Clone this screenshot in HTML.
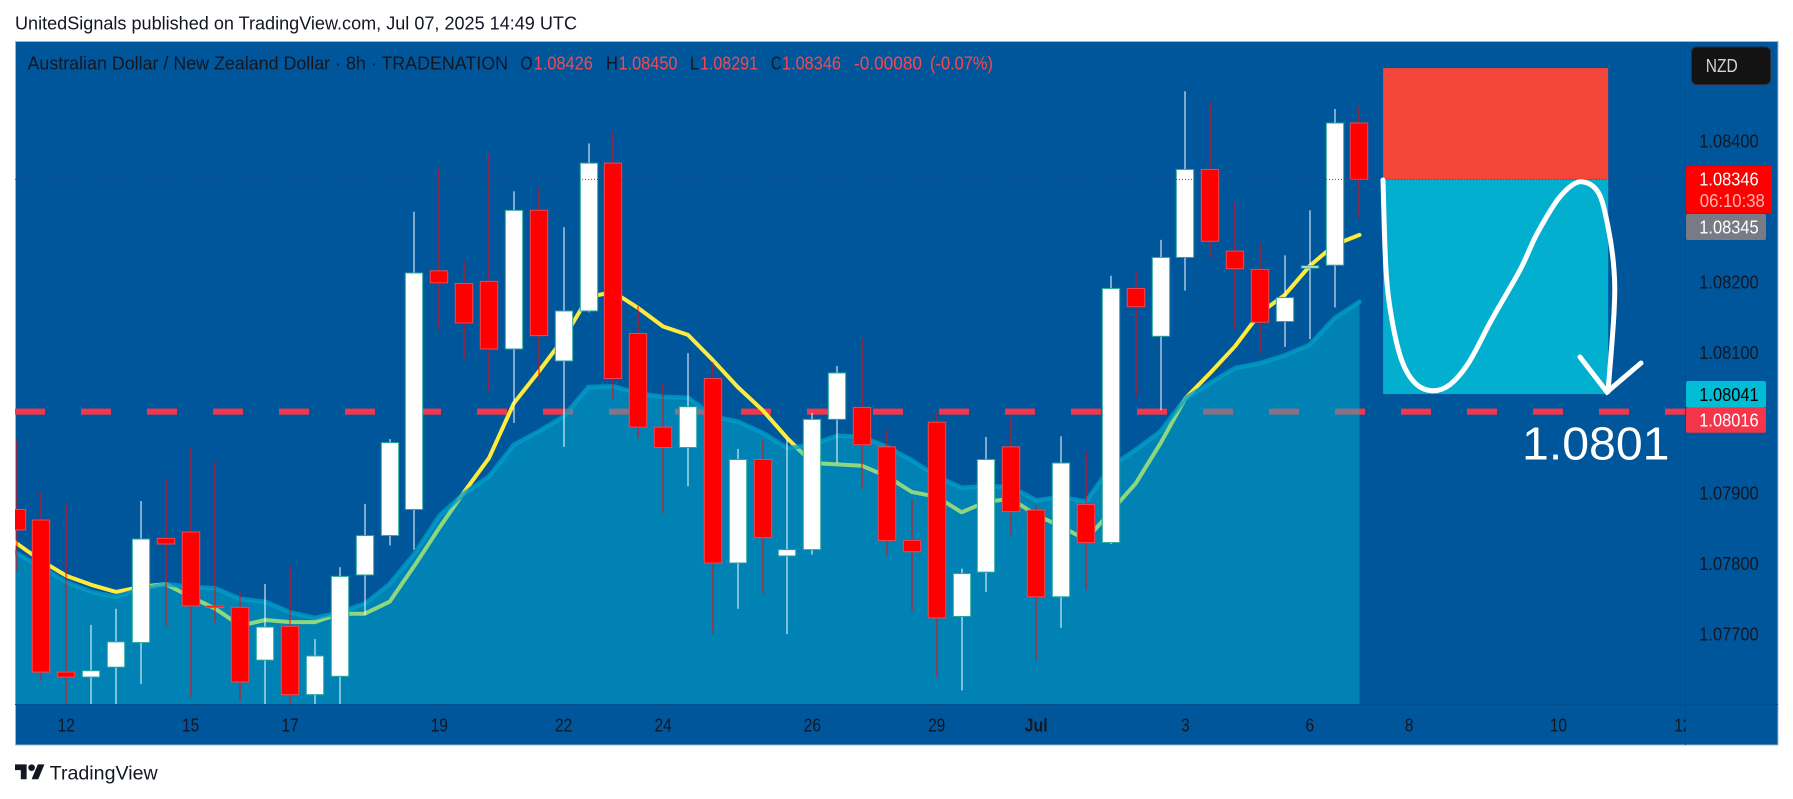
<!DOCTYPE html>
<html lang="en">
<head>
<meta charset="utf-8">
<title>AUD/NZD 8h chart</title>
<style>
html,body{margin:0;padding:0;background:#fff;width:1793px;height:799px;overflow:hidden}
svg{display:block;font-family:"Liberation Sans","DejaVu Sans",sans-serif}
</style>
</head>
<body>
<svg id="chart" xmlns="http://www.w3.org/2000/svg" width="1793" height="799" viewBox="0 0 1793 799">
  <defs>
    <clipPath id="pane-clip"><rect x="15" y="42" width="1670.5" height="662"/></clipPath>
    <clipPath id="time-clip"><rect x="15" y="705" width="1670.5" height="40"/></clipPath>
  </defs>
  <rect x="0" y="0" width="1793" height="799" fill="#ffffff"/>
  <text x="15" y="29.3" font-size="18.5" fill="#131722" textLength="562" lengthAdjust="spacingAndGlyphs">UnitedSignals published on TradingView.com, Jul 07, 2025 14:49 UTC</text>
  <rect x="15.5" y="41.5" width="1762.5" height="703.5" fill="#00569b" stroke="#9db6cf" stroke-width="1"/>
  <g id="pane" clip-path="url(#pane-clip)"></g>
  <path d="M1685.5 42V745M15 704.5H1778" stroke="#004f8f" stroke-width="1" fill="none"/>

  <g font-size="18">
    <text x="27.5" y="69.3" fill="#131722" textLength="480.5" lengthAdjust="spacingAndGlyphs">Australian Dollar / New Zealand Dollar · 8h · TRADENATION</text>
    <text x="520.5" y="69.3" fill="#131722" textLength="12" lengthAdjust="spacingAndGlyphs">O</text>
    <text x="533.8" y="69.3" fill="#f7474f" textLength="59" lengthAdjust="spacingAndGlyphs">1.08426</text>
    <text x="606" y="69.3" fill="#131722" textLength="12" lengthAdjust="spacingAndGlyphs">H</text>
    <text x="618.5" y="69.3" fill="#f7474f" textLength="59" lengthAdjust="spacingAndGlyphs">1.08450</text>
    <text x="690" y="69.3" fill="#131722" textLength="9" lengthAdjust="spacingAndGlyphs">L</text>
    <text x="700" y="69.3" fill="#f7474f" textLength="58" lengthAdjust="spacingAndGlyphs">1.08291</text>
    <text x="771" y="69.3" fill="#131722" textLength="10.5" lengthAdjust="spacingAndGlyphs">C</text>
    <text x="782" y="69.3" fill="#f7474f" textLength="59" lengthAdjust="spacingAndGlyphs">1.08346</text>
    <text x="854" y="69.3" fill="#f7474f" textLength="68" lengthAdjust="spacingAndGlyphs">-0.00080</text>
    <text x="930" y="69.3" fill="#f7474f" textLength="63" lengthAdjust="spacingAndGlyphs">(-0.07%)</text>
  </g>

  <g id="price-axis"></g>
  <g id="time-axis" clip-path="url(#time-clip)"></g>
  <g id="price-tags"></g>

  <g>
    <rect x="1691.5" y="47" width="79" height="37.5" rx="5" fill="#131313" stroke="#2a2e39" stroke-width="1"/>
    <text x="1705.8" y="72" font-size="18" fill="#d1d4dc" textLength="32" lengthAdjust="spacingAndGlyphs">NZD</text>
  </g>

  <g>
    <g transform="translate(15 761) scale(0.83)" fill="#131722">
      <path d="M14 22H7V11H0V4h14v18zM28 22h-8l7.5-18h8L28 22z"/>
      <circle cx="20" cy="8" r="4"/>
    </g>
    <text x="49.7" y="779.7" font-size="19" fill="#131722" textLength="108" lengthAdjust="spacingAndGlyphs">TradingView</text>
  </g>
</svg>

<script>
const opens  = [1.07877,1.07862,1.07646,1.07639,1.07653,1.07688,1.07836,1.07845,1.07740,1.07738,1.07663,1.07711,1.07614,1.07640,1.07784,1.07840,1.07877,1.08216,1.08198,1.08201,1.08105,1.08302,1.08088,1.08159,1.08369,1.08127,1.07994,1.07965,1.08063,1.07801,1.07948,1.07811,1.07820,1.08005,1.08022,1.07966,1.07833,1.08001,1.07725,1.07788,1.07966,1.07876,1.07753,1.07884,1.07830,1.08191,1.08123,1.08235,1.08360,1.08244,1.08218,1.08144,1.08220,1.08224,1.08426];
const highs  = [1.07976,1.07902,1.07886,1.07713,1.07736,1.07889,1.07921,1.07965,1.07945,1.07759,1.07771,1.07798,1.07693,1.07795,1.07885,1.07977,1.08300,1.08362,1.08229,1.08383,1.08329,1.08335,1.08278,1.08397,1.08414,1.08166,1.08056,1.08099,1.08086,1.07963,1.07976,1.07976,1.08014,1.08081,1.08120,1.07991,1.07891,1.08016,1.07793,1.07980,1.08007,1.07882,1.07981,1.07959,1.08209,1.08214,1.08260,1.08471,1.08457,1.08314,1.08256,1.08238,1.08302,1.08446,1.08450];
const lows   = [1.07788,1.07634,1.07592,1.07592,1.07592,1.07629,1.07711,1.07610,1.07716,1.07605,1.07592,1.07592,1.07592,1.07592,1.07727,1.07826,1.07820,1.08132,1.08091,1.08044,1.08000,1.08062,1.07966,1.08157,1.08033,1.07978,1.07872,1.07910,1.07700,1.07736,1.07757,1.07700,1.07813,1.07943,1.07906,1.07811,1.07733,1.07639,1.07620,1.07760,1.07841,1.07663,1.07709,1.07763,1.07828,1.08037,1.08018,1.08188,1.08235,1.08133,1.08099,1.08108,1.08119,1.08164,1.08291];
const closes = [1.07848,1.07646,1.07639,1.07648,1.07689,1.07835,1.07828,1.07740,1.07739,1.07632,1.07710,1.07614,1.07669,1.07782,1.07840,1.07972,1.08213,1.08199,1.08142,1.08105,1.08302,1.08124,1.08159,1.08369,1.08063,1.07994,1.07965,1.08023,1.07801,1.07948,1.07837,1.07820,1.08005,1.08071,1.07969,1.07833,1.07817,1.07723,1.07786,1.07948,1.07874,1.07753,1.07943,1.07830,1.08191,1.08165,1.08235,1.08360,1.08258,1.08219,1.08143,1.08178,1.08223,1.08426,1.08346];
/* moving averages start one bar before the first visible candle */
const fastMa = [1.07855,1.07829,1.07804,1.07783,1.07770,1.07760,1.07767,1.07771,1.07753,1.07736,1.07712,1.07720,1.07717,1.07717,1.07729,1.07729,1.07746,1.07797,1.07851,1.07902,1.07950,1.08028,1.08073,1.08120,1.08179,1.08186,1.08163,1.08137,1.08125,1.08089,1.08051,1.08018,1.07978,1.07943,1.07941,1.07939,1.07924,1.07902,1.07895,1.07873,1.07888,1.07892,1.07869,1.07853,1.07834,1.07874,1.07914,1.07971,1.08035,1.08071,1.08109,1.08156,1.08182,1.08223,1.08253,1.08267];
const slowMa = [1.07841,1.07815,1.07795,1.07774,1.07760,1.07753,1.07764,1.07771,1.07767,1.07765,1.07750,1.07746,1.07731,1.07723,1.07731,1.07743,1.07771,1.07814,1.07868,1.07900,1.07924,1.07969,1.07988,1.08009,1.08051,1.08052,1.08042,1.08037,1.08036,1.08009,1.08002,1.07986,1.07964,1.07969,1.07982,1.07980,1.07966,1.07947,1.07924,1.07908,1.07910,1.07909,1.07890,1.07895,1.07888,1.07938,1.07962,1.07988,1.08035,1.08057,1.08078,1.08085,1.08096,1.08111,1.08149,1.08172];
const priceTicks = [1.08400,1.08200,1.08100,1.07900,1.07800,1.07700];
const timeLabels = ["12","15","17","19","22","24","26","29","Jul","3","6","8","10","12"];
const timeBars   = [2,7,11,17,22,26,32,37,41,47,52,56,62,67];
const supportPrice = 1.08016;
const lastPrice = 1.08346;
const stopPrice = 1.08504;
const entryPrice = 1.08346;
const targetPrice = 1.08041;
const shortStartBar = 54.95;
const shortEndBar = 64;

function xScale(i){return 16.5+24.87*i;}
function yScale(p){return 141.3+(1.084-p)*70400;}
const NS="http://www.w3.org/2000/svg";
const pane=document.getElementById('pane');
function mk(tag,parent){const e=document.createElementNS(NS,tag);parent.appendChild(e);return e;}
function set(e,k,v){e.setAttribute(k,v);}

/* support dashed line */
const support=mk('line',pane);


set(support,'x1',15);set(support,'x2',1685.5);
set(support,'y1',yScale(supportPrice));set(support,'y2',yScale(supportPrice));
set(support,'stroke','#f5364a');set(support,'stroke-width',6);set(support,'stroke-dasharray','30 36');

/* fast moving average */
const fastPts=fastMa.map((v,i)=>xScale(i-1).toFixed(1)+','+yScale(v).toFixed(1)).join(' ');
const fastLine=mk('polyline',pane);


set(fastLine,'points',fastPts);set(fastLine,'fill','none');set(fastLine,'stroke','#ffeb3b');
set(fastLine,'stroke-width',4);set(fastLine,'stroke-linejoin','round');set(fastLine,'stroke-linecap','round');

/* slow moving average area */
const slowPts=slowMa.map((v,i)=>xScale(i-1).toFixed(1)+','+yScale(v).toFixed(1));
const area=mk('polygon',pane);


set(area,'points',slowPts.join(' ')+' '+xScale(54).toFixed(1)+',704 '+xScale(-1).toFixed(1)+',704');
set(area,'fill','#00bcd4');set(area,'fill-opacity',0.44);
const slowLine=mk('polyline',pane);


set(slowLine,'points',slowPts.join(' '));set(slowLine,'fill','none');set(slowLine,'stroke','#00a0c8');
set(slowLine,'stroke-opacity',0.75);set(slowLine,'stroke-width',4.5);set(slowLine,'stroke-linejoin','round');set(slowLine,'stroke-linecap','round');

/* short position boxes */
const stopBox=mk('rect',pane);


set(stopBox,'x',xScale(shortStartBar));set(stopBox,'width',xScale(shortEndBar)-xScale(shortStartBar));
set(stopBox,'y',yScale(stopPrice));set(stopBox,'height',yScale(entryPrice)-yScale(stopPrice));set(stopBox,'fill','#f44539');
const targetBox=mk('rect',pane);


set(targetBox,'x',xScale(shortStartBar));set(targetBox,'width',xScale(shortEndBar)-xScale(shortStartBar));
set(targetBox,'y',yScale(entryPrice));set(targetBox,'height',yScale(targetPrice)-yScale(entryPrice));set(targetBox,'fill','#03afce');

/* candles */
opens.forEach((o,i)=>{
  const c=closes[i],h=highs[i],l=lows[i],down=c<o;
  const x=Math.round(xScale(i));
  const g=mk('g',pane);
  
  
  const wick=mk('rect',g);
  
  
  set(wick,'x',x-0.5);set(wick,'width',1);
  set(wick,'y',yScale(h));set(wick,'height',yScale(l)-yScale(h));
  set(wick,'fill',down?'#ff0000':'#ffffff');
  const body=mk('rect',g);
  
  
  const top=yScale(Math.max(o,c)),bot=yScale(Math.min(o,c));
  set(body,'x',x-8.7);set(body,'width',17.4);
  set(body,'y',top);set(body,'height',Math.max(bot-top,1.6));
  set(body,'fill',down?'#ff0000':'#ffffff');
  set(body,'stroke',down?'#f2464f':'#26a69a');set(body,'stroke-width',1);
});

/* last price dotted line */
const lastLine=mk('line',pane);


set(lastLine,'x1',15);set(lastLine,'x2',1685.5);set(lastLine,'y1',yScale(lastPrice));set(lastLine,'y2',yScale(lastPrice));
set(lastLine,'stroke','#ff0000');set(lastLine,'stroke-width',1);set(lastLine,'stroke-dasharray','1 2');

/* hand drawn projection brush */
const brush=mk('path',pane);


set(brush,'d','M1383 180C1383.5 195 1384.5 246.7 1386 270C1387.5 293.3 1389.4 305 1392 320C1394.6 335 1397.8 349.5 1401.6 360C1405.4 370.5 1409.9 377.9 1415 383C1420.1 388.1 1426.3 390.4 1432 390.7C1437.7 391 1443.3 389.6 1449.4 385C1455.5 380.4 1461.5 373.8 1468.5 363C1475.5 352.2 1482.9 335.5 1491.5 320C1500.1 304.5 1512.3 284.5 1520 270C1527.7 255.5 1530.7 245.2 1537.4 233C1544.1 220.8 1552.6 205.3 1560 196.7C1567.4 188.1 1575.6 181.1 1582 181.7C1588.4 182.3 1594.3 185.5 1598.6 193C1602.9 200.5 1605.4 213.9 1608 226.7C1610.6 239.5 1613 255.6 1614 270C1615 284.4 1615 292.7 1614 313C1613 333.3 1609 378.6 1608 391.7');
set(brush,'fill','none');set(brush,'stroke','#ffffff');set(brush,'stroke-width',5);set(brush,'stroke-linecap','round');
const arrow=mk('path',pane);


set(arrow,'d','M1580 357L1607 392L1641 363');
set(arrow,'fill','none');set(arrow,'stroke','#ffffff');set(arrow,'stroke-width',5);set(arrow,'stroke-linecap','round');set(arrow,'stroke-linejoin','miter');

/* target text */
const bigLabel=mk('text',pane);


set(bigLabel,'x',1522);set(bigLabel,'y',459.3);set(bigLabel,'font-size',46.5);set(bigLabel,'fill','#ffffff');
set(bigLabel,'textLength',147.5);set(bigLabel,'lengthAdjust','spacingAndGlyphs');
bigLabel.textContent='1.0801';

/* price axis */
const pAxis=document.getElementById('price-axis');
priceTicks.forEach(p=>{
  const t=mk('text',pAxis);
  
  
  set(t,'x',1699.3);set(t,'y',yScale(p)+6.3);set(t,'font-size',18);set(t,'fill','#131722');
  set(t,'textLength',59.3);set(t,'lengthAdjust','spacingAndGlyphs');
  t.textContent=p.toFixed(5);
});

/* time axis */
const tAxis=document.getElementById('time-axis');
timeLabels.forEach((s,i)=>{
  const t=mk('text',tAxis);
  
  
  set(t,'x',xScale(timeBars[i]));set(t,'y',731.7);set(t,'font-size',18);set(t,'fill','#131722');
  set(t,'text-anchor','middle');
  set(t,'textLength',s==='Jul'?23:s.length*8.6);set(t,'lengthAdjust','spacingAndGlyphs');
  if(s==='Jul'){set(t,'font-weight','bold');}
  t.textContent=s;
});

/* price tags */
const tags=document.getElementById('price-tags');
const lastTag=mk('rect',tags);


set(lastTag,'x',1686);set(lastTag,'y',166);set(lastTag,'width',86);set(lastTag,'height',47.3);set(lastTag,'rx',2);set(lastTag,'fill','#ff0000');
const lastTagText=mk('text',tags);


set(lastTagText,'x',1699.3);set(lastTagText,'y',yScale(lastPrice)+6.3);set(lastTagText,'font-size',18);set(lastTagText,'fill','#ffffff');
set(lastTagText,'textLength',59.3);set(lastTagText,'lengthAdjust','spacingAndGlyphs');
lastTagText.textContent=lastPrice.toFixed(5);
const countdown=mk('text',tags);


set(countdown,'x',1699.8);set(countdown,'y',207);set(countdown,'font-size',18);set(countdown,'fill','#ffb3b3');
set(countdown,'textLength',65);set(countdown,'lengthAdjust','spacingAndGlyphs');
countdown.textContent='06:10:38';
const grayTag=mk('rect',tags);


set(grayTag,'x',1686);set(grayTag,'y',214);set(grayTag,'width',80);set(grayTag,'height',26);set(grayTag,'rx',2);set(grayTag,'fill','#787b86');
const grayTagText=mk('text',tags);


set(grayTagText,'x',1699.3);set(grayTagText,'y',233.3);set(grayTagText,'font-size',18);set(grayTagText,'fill','#ffffff');
set(grayTagText,'textLength',59.3);set(grayTagText,'lengthAdjust','spacingAndGlyphs');
grayTagText.textContent='1.08345';
const targetTag=mk('rect',tags);


set(targetTag,'x',1686);set(targetTag,'y',381);set(targetTag,'width',80);set(targetTag,'height',26.7);set(targetTag,'rx',2);set(targetTag,'fill','#00bcd4');
const targetTagText=mk('text',tags);


set(targetTagText,'x',1699.3);set(targetTagText,'y',401);set(targetTagText,'font-size',18);set(targetTagText,'fill','#000000');
set(targetTagText,'textLength',59.3);set(targetTagText,'lengthAdjust','spacingAndGlyphs');
targetTagText.textContent=targetPrice.toFixed(5);
const supportTag=mk('rect',tags);


set(supportTag,'x',1686);set(supportTag,'y',407.7);set(supportTag,'width',80);set(supportTag,'height',25);set(supportTag,'rx',2);set(supportTag,'fill','#f5364a');
const supportTagText=mk('text',tags);


set(supportTagText,'x',1699.3);set(supportTagText,'y',426.3);set(supportTagText,'font-size',18);set(supportTagText,'fill','#ffffff');
set(supportTagText,'textLength',59.3);set(supportTagText,'lengthAdjust','spacingAndGlyphs');
supportTagText.textContent=supportPrice.toFixed(5);
</script>
</body>
</html>
